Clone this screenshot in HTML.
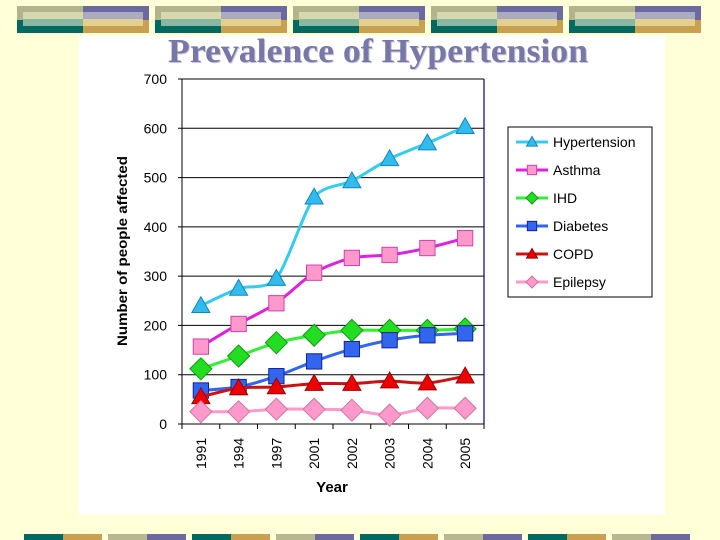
<!DOCTYPE html>
<html><head><meta charset="utf-8"><style>
html,body{margin:0;padding:0;background:#FFFFD8;}
#wrap{position:relative;width:720px;height:540px;overflow:hidden;background:#FFFFD8;font-family:"Liberation Sans",sans-serif;}
</style></head><body>
<div id="wrap">
<svg id="svg" width="720" height="540" xmlns="http://www.w3.org/2000/svg">
<g id="topbar"></g>
<rect x="79" y="36" width="586" height="479" fill="#ffffff"/>
<text x="379" y="63" text-anchor="middle" textLength="420" lengthAdjust="spacingAndGlyphs" font-family="Liberation Serif,serif" font-weight="bold" font-size="34" fill="#c8c8d8">Prevalence of Hypertension</text>
<text x="378" y="62" text-anchor="middle" textLength="420" lengthAdjust="spacingAndGlyphs" font-family="Liberation Serif,serif" font-weight="bold" font-size="34" fill="#7878A8">Prevalence of Hypertension</text>
<g id="chart"></g>
<g id="botbar"></g>
</svg>
</div>
<script>
const categories=["1991","1994","1997","2001","2002","2003","2004","2005"];
const hypertension=[240,275,295,460,493,538,570,603];
const asthma=[157,203,245,307,337,343,357,377];
const ihd=[112,138,165,180,190,190,190,193];
const diabetes=[68,75,97,127,152,170,180,184];
const copd=[55,73,75,82,82,87,83,97];
const epilepsy=[25,25,30,30,28,18,32,32];
const yTicks=[0,100,200,300,400,500,600,700];
const seriesNames=["Hypertension","Asthma","IHD","Diabetes","COPD","Epilepsy"];

const NS="http://www.w3.org/2000/svg";
function mk(tag,attrs,parent){const e=document.createElementNS(NS,tag);for(const k in attrs)e.setAttribute(k,attrs[k]);parent.appendChild(e);return e;}
const tb=document.getElementById('topbar');
for(let i=0;i<5;i++){
  const x=17+i*138;
  mk('rect',{x:x,y:6,width:66,height:14,fill:'#B4B48C'},tb);
  mk('rect',{x:x+66,y:6,width:66,height:14,fill:'#6A6AA0'},tb);
  mk('rect',{x:x,y:20,width:66,height:13,fill:'#006A60'},tb);
  mk('rect',{x:x+66,y:20,width:66,height:13,fill:'#C8A050'},tb);
  mk('rect',{x:x+6,y:12,width:60,height:7,fill:'#D8D8B0'},tb);
  mk('rect',{x:x+66,y:12,width:60,height:7,fill:'#AAAAC2'},tb);
  mk('rect',{x:x+6,y:19,width:60,height:7,fill:'#88B8A0'},tb);
  mk('rect',{x:x+66,y:19,width:60,height:7,fill:'#E2D090'},tb);
}
const bb=document.getElementById('botbar');
for(let i=0;i<8;i++){
  const x=24+i*84;
  const a=i%2==0?'#006A60':'#B8B890', b=i%2==0?'#C8A050':'#6A6AA0';
  mk('rect',{x:x,y:534,width:39,height:6,fill:a},bb);
  mk('rect',{x:x+39,y:534,width:39,height:6,fill:b},bb);
}
const ch=document.getElementById('chart');
const X0=182,X1=484,Y0=424,Y1=79,YMAX=700;
const band=(X1-X0)/categories.length;
const xs=i=>X0+band*(i+0.5);
const ys=v=>Y0-(v/YMAX)*(Y0-Y1);
yTicks.forEach(t=>{
  const l=mk('line',{x1:X0-4,x2:X1,y1:ys(t),y2:ys(t),stroke:'#000','stroke-width':1},ch);
  
  
  const tx=mk('text',{x:167,y:ys(t)+5,'text-anchor':'end','font-size':14,fill:'#000'},ch);
  tx.textContent=t;
  
  
});
mk('line',{x1:X0,x2:X0,y1:Y1,y2:Y0,stroke:'#000'},ch);
mk('line',{x1:X1,x2:X1,y1:Y1,y2:Y0,stroke:'#000080','stroke-width':1.2},ch);
for(let i=0;i<=categories.length;i++){
  mk('line',{x1:X0+band*i,x2:X0+band*i,y1:Y0,y2:Y0+5,stroke:'#000'},ch);
}
categories.forEach((c,i)=>{
  const t=mk('text',{transform:`translate(${xs(i)+5},${469}) rotate(-90)`,'font-size':14,fill:'#000'},ch);
  t.textContent=c;
  
  
});
const yt=mk('text',{transform:'translate(127,251) rotate(-90)','text-anchor':'middle','font-size':14,'font-weight':'bold',fill:'#000',textLength:190,lengthAdjust:'spacingAndGlyphs'},ch);
yt.textContent='Number of people affected';


const xt=mk('text',{x:332,y:492,'text-anchor':'middle','font-size':15,'font-weight':'bold',fill:'#000'},ch);
xt.textContent='Year';



const styles=[
 {data:hypertension,line:'#33CCEE',fill:'#33BBEE',stroke:'#1188BB',m:'tri'},
 {data:asthma,line:'#DD22DD',fill:'#FF99CC',stroke:'#CC44AA',m:'sq'},
 {data:ihd,line:'#33EE33',fill:'#22DD22',stroke:'#119911',m:'dia'},
 {data:diabetes,line:'#3366EE',fill:'#3366EE',stroke:'#112299',m:'sq'},
 {data:copd,line:'#CC1111',fill:'#EE0000',stroke:'#990000',m:'tri'},
 {data:epilepsy,line:'#FF99CC',fill:'#FF99CC',stroke:'#CC7799',m:'dia'}
];
function marker(g,type,x,y,s,st){
  if(type==='tri')return mk('polygon',{points:`${x},${y-s} ${x-s},${y+s*0.75} ${x+s},${y+s*0.75}`,fill:st.fill,stroke:st.stroke},g);
  if(type==='sq')return mk('rect',{x:x-s*0.85,y:y-s*0.85,width:s*1.7,height:s*1.7,fill:st.fill,stroke:st.stroke},g);
  return mk('polygon',{points:`${x},${y-s} ${x+s},${y} ${x},${y+s} ${x-s},${y}`,fill:st.fill,stroke:st.stroke},g);
}
function smooth(pts){
  let d=`M${pts[0][0]},${pts[0][1]}`;
  for(let i=0;i<pts.length-1;i++){
    const p0=pts[i-1]||pts[i],p1=pts[i],p2=pts[i+1],p3=pts[i+2]||p2;
    const c1=[p1[0]+(p2[0]-p0[0])/8,p1[1]+(p2[1]-p0[1])/8];
    const c2=[p2[0]-(p3[0]-p1[0])/8,p2[1]-(p3[1]-p1[1])/8];
    d+=` C${c1[0]},${c1[1]} ${c2[0]},${c2[1]} ${p2[0]},${p2[1]}`;
  }
  return d;
}
styles.forEach((st,k)=>{
  const g=mk('g',{},ch);
  
  
  const pts=st.data.map((v,i)=>[xs(i),ys(v)]);
  mk('path',{d:smooth(pts),fill:'none',stroke:st.line,'stroke-width':3},g);
  pts.forEach(p=>{
    const m=marker(g,st.m,p[0],p[1],st.m==='dia'?11:9,st);
    
    
  });
});
const lg=mk('g',{},ch);


mk('rect',{x:508,y:127,width:144,height:170,fill:'#fff',stroke:'#000'},lg);
styles.forEach((st,k)=>{
  const y=142+k*28;
  const e=mk('g',{},lg);
  
  
  mk('line',{x1:516,x2:548,y1:y,y2:y,stroke:st.line,'stroke-width':3},e);
  marker(e,st.m,532,y,st.m==='dia'?6:5.5,st);
  const t=mk('text',{x:553,y:y+5,'font-size':14,fill:'#000'},e);
  t.textContent=seriesNames[k];
});
</script>
</body></html>
